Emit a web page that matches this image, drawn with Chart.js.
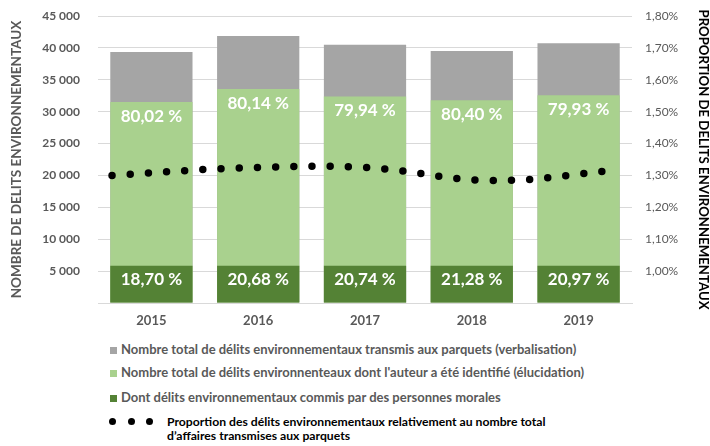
<!DOCTYPE html>
<html lang="fr">
<head>
<meta charset="utf-8">
<script src="https://cdn.jsdelivr.net/npm/chart.js@4/dist/chart.umd.min.js"></script>
<style>
    body { margin: 0; background: #fff; font-family: Lato, sans-serif; }
    #wrap { position: relative; width: 710px; height: 446px; }
    #chart-box { position: absolute; left: 0; top: 0; width: 710px; height: 335px; }
    .legend { position: absolute; left: 110px; top: 340px; font-weight: bold; font-size: 13px; color: #595959; }
    .legend-item { position: absolute; white-space: nowrap; line-height: 14px; }
    .legend-item .sq { display: inline-block; width: 7px; height: 7px; margin-right: 4px; }
    .legend-item.dots { color: #000; font-size: 12.2px; }
    .dot { position: absolute; width: 7px; height: 7px; border-radius: 50%; background: #000; }
</style>
</head>
<body>
<div id="wrap">
    <div id="chart-box"><canvas id="chart"></canvas></div>
    <div class="legend" id="legend"></div>
</div>
<script>
const years = ['2015', '2016', '2017', '2018', '2019'];

// nombre total transmis aux parquets (verbalisation)
const totalTransmis = [39370, 41870, 40510, 39520, 40730];
// dont l'auteur a été identifié (élucidation)
const totalElucides = [31500, 33550, 32380, 31780, 32560];
// dont personnes morales
const personnesMorales = [5850, 5850, 5850, 5850, 5850];

const tauxElucidation = [80.02, 80.14, 79.94, 80.40, 79.93];
const tauxMorales = [18.70, 20.68, 20.74, 21.28, 20.97];

// proportion (en %) relativement au total des affaires transmises
const proportion = [1.300, 1.323, 1.325, 1.284, 1.317];

const leftTicks = [5000, 10000, 15000, 20000, 25000, 30000, 35000, 40000, 45000];

const legendLabels = [
    'Nombre total de délits environnementaux transmis aux parquets (verbalisation)',
    'Nombre total de délits environnenteaux dont l\'auteur a été identifié (élucidation)',
    'Dont délits environnementaux commis par des personnes morales',
    'Proportion des délits environnementaux relativement au nombre total<br>d’affaires transmises aux parquets'
];

const grey = '#A5A5A5';
const lightGreen = '#A9D18E';
const darkGreen = '#548235';
const gridColor = '#D9D9D9';
const axisGrey = '#595959';
const font = 'Lato, sans-serif';

const fmtPct = (v) => v.toFixed(2).replace('.', ',') + ' %';

// Étiquettes blanches dans les barres
const barLabels = {
    id: 'barLabels',
    afterDatasetsDraw(chart) {
        const ctx = chart.ctx;
        ctx.save();
        ctx.fillStyle = '#fff';
        ctx.font = 'bold 17px ' + font;
        ctx.textAlign = 'center';
        ctx.textBaseline = 'middle';
        [[2, tauxElucidation], [1, tauxMorales]].forEach(([idx, values]) => {
            chart.getDatasetMeta(idx).data.forEach((bar, i) => {
                ctx.fillText(fmtPct(values[i]), bar.x, bar.y + 14);
            });
        });
        ctx.restore();
    }
};

const barCommon = {
    grouped: false,
    categoryPercentage: 1,
    barPercentage: 0.77,
    yAxisID: 'y',
    xAxisID: 'x',
};

new Chart(document.getElementById('chart'), {
    data: {
        labels: years,
        datasets: [
            {
                type: 'line',
                label: 'Proportion',
                data: proportion.map((v, i) => ({ x: i, y: v })),
                xAxisID: 'x2',
                yAxisID: 'y2',
                borderColor: '#000',
                borderWidth: 7.5,
                borderDash: [0, 18.2],
                borderCapStyle: 'round',
                tension: 0.4,
                pointRadius: 0,
                fill: false,
                order: 0,
            },
            { ...barCommon, type: 'bar', label: 'Morales', data: personnesMorales, backgroundColor: darkGreen, order: 1 },
            { ...barCommon, type: 'bar', label: 'Elucidation', data: totalElucides, backgroundColor: lightGreen, order: 2 },
            { ...barCommon, type: 'bar', label: 'Verbalisation', data: totalTransmis, backgroundColor: grey, order: 3 },
        ]
    },
    options: {
        responsive: true,
        maintainAspectRatio: false,
        animation: false,
        layout: { padding: { top: 16, left: 0, right: 0, bottom: 0 } },
        plugins: {
            legend: { display: false },
            tooltip: { enabled: false },
        },
        scales: {
            x: {
                type: 'category',
                offset: true,
                grid: { display: false, drawTicks: false },
                border: { display: true, color: gridColor, width: 1 },
                ticks: { color: axisGrey, font: { family: font, size: 13, weight: 'bold' }, padding: 10 },
                afterFit(scale) { scale.height = 32; },
            },
            x2: {
                type: 'linear',
                display: false,
                min: -0.111,
                max: 4.111,
            },
            y: {
                position: 'left',
                min: 0,
                max: 45000,
                afterBuildTicks(scale) { scale.ticks = [0, ...leftTicks].map(v => ({ value: v })); },
                grid: { color: gridColor, drawTicks: true, tickLength: 16, tickColor: 'rgba(0,0,0,0)' },
                border: { display: false },
                ticks: {
                    color: axisGrey,
                    font: { family: font, size: 12, weight: 'bold' },
                    padding: 2,
                    callback: (v) => v === 0 ? '' : v.toLocaleString('fr-FR').replace(/\s/g, ' '),
                },
                title: {
                    display: true,
                    text: 'NOMBRE DE DELITS ENVIRONNEMENTAUX',
                    color: axisGrey,
                    font: { family: font, size: 13.5, weight: 'bold', lineHeight: 1.2 },
                    padding: { top: 9, bottom: 0 },
                },
                afterFit(scale) { scale.width = 98; },
            },
            y2: {
                position: 'right',
                min: 0.9,
                max: 1.8,
                grid: { display: true, drawOnChartArea: false, color: 'rgba(0,0,0,0)', drawTicks: true, tickLength: 11, tickColor: 'rgba(0,0,0,0)' },
                border: { display: false },
                ticks: {
                    stepSize: 0.1,
                    color: axisGrey,
                    font: { family: font, size: 12 },
                    padding: 2,
                    callback: (v) => v < 0.95 ? '' : v.toFixed(2).replace('.', ',') + '%',
                },
                title: {
                    display: true,
                    text: 'PROPORTION DE DELITS ENVIRONNEMENTAUX',
                    color: '#000',
                    font: { family: font, size: 13.2, weight: 'bold', lineHeight: 1 },
                    padding: { top: 0, bottom: 0 },
                },
                afterFit(scale) { scale.width = 78; },
            },
        },
    },
    plugins: [barLabels],
});

// Légende
const legendEl = document.getElementById('legend');
const legendTops = [2, 25, 50, 75];
const legendColors = [grey, lightGreen, darkGreen];
legendLabels.forEach((text, i) => {
    const item = document.createElement('div');
    item.className = 'legend-item';
    item.style.top = legendTops[i] + 'px';
    if (i < 3) {
        item.style.left = '0px';
        item.innerHTML = '<span class="sq" style="background:' + legendColors[i] + '"></span>' + text;
    } else {
        item.classList.add('dots');
        item.style.left = '57px';
        item.innerHTML = text;
        [0, 18.5, 37].forEach(dx => {
            const d = document.createElement('span');
            d.className = 'dot';
            d.style.left = (dx - 57 - 1) + 'px';
            d.style.top = '3px';
            item.appendChild(d);
        });
    }
    legendEl.appendChild(item);
});
</script>
</body>
</html>
